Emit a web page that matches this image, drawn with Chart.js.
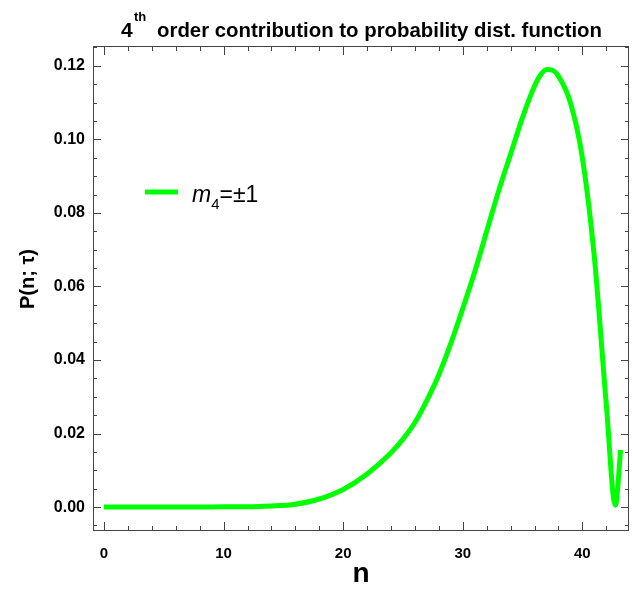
<!DOCTYPE html>
<html><head><meta charset="utf-8">
<script src="https://cdn.jsdelivr.net/npm/chart.js@4.4.0/dist/chart.umd.min.js"></script>
<style>html,body{margin:0;padding:0;background:#fff}canvas{display:block}</style>
</head><body>
<canvas id="c" width="632" height="595"></canvas>
<script>
// ---- data ----
const nValues = [0, 2, 4, 6, 8, 10, 12, 14, 16, 18, 20, 22, 24, 25, 26, 27, 28, 29, 30, 31, 32, 33, 34, 35, 36, 36.5, 37, 37.5, 38, 39, 40, 41, 42, 42.76, 43.2];
const pValues = [0, 0, 0, 0, 0, 0.0001, 0.0001, 0.0003, 0.0008, 0.0022, 0.0048, 0.009, 0.0148, 0.0185, 0.023, 0.029, 0.036, 0.0445, 0.054, 0.064, 0.075, 0.086, 0.096, 0.106, 0.1145, 0.1175, 0.119, 0.1188, 0.1172, 0.110, 0.095, 0.068, 0.028, 0.0005, 0.0155];
const xTickValues = [0, 10, 20, 30, 40];
const yTickValues = [0, 0.02, 0.04, 0.06, 0.08, 0.10, 0.12];
const xMinorStep = 2;
const yMinorStep = 0.005;
const titleMain = "order contribution to probability dist. function";
const titleNum = "4";
const titleSup = "th";
const xTitle = "n";
const yTitle = "P(n; τ)";
const legendSymbol = "m";
const legendSub = "4";
const legendRest = "=±1";

const GREEN = '#00ff00';
const FONT = '"Liberation Sans", Arial, sans-serif';

const decorPlugin = {
  id: 'decor',
  afterDraw(chart) {
    const ctx = chart.ctx;
    const a = chart.chartArea;
    const xs = chart.scales.x, ys = chart.scales.y;
    ctx.save();
    ctx.strokeStyle = '#444';
    ctx.lineWidth = 1;
    ctx.strokeRect(a.left + 0.5, a.top + 0.5, a.right - a.left - 1, a.bottom - a.top - 1);
    const drawX = (v, len) => {
      const px = Math.round(xs.getPixelForValue(v)) + 0.5;
      if (px < a.left || px > a.right) return;
      ctx.beginPath();
      ctx.moveTo(px, a.bottom); ctx.lineTo(px, a.bottom - len);
      ctx.moveTo(px, a.top); ctx.lineTo(px, a.top + len);
      ctx.stroke();
    };
    for (let v = 0; v <= xs.max; v += xMinorStep) {
      const major = xTickValues.some(t => Math.abs(t - v) < 1e-9);
      drawX(v, major ? 9 : 5);
    }
    const drawY = (v, len) => {
      const py = Math.round(ys.getPixelForValue(v)) + 0.5;
      if (py < a.top || py > a.bottom) return;
      ctx.beginPath();
      ctx.moveTo(a.left, py); ctx.lineTo(a.left + len, py);
      ctx.moveTo(a.right, py); ctx.lineTo(a.right - len, py);
      ctx.stroke();
    };
    for (let i = -1; i * yMinorStep <= ys.max; i++) {
      const v = i * yMinorStep;
      const major = yTickValues.some(t => Math.abs(t - v) < 1e-9);
      drawY(v, major ? 8 : 4);
    }
    // title
    ctx.fillStyle = '#000';
    ctx.textBaseline = 'alphabetic';
    ctx.textAlign = 'left';
    ctx.font = 'bold 21px ' + FONT;
    ctx.fillText(titleNum, 121, 37);
    ctx.font = 'bold 13px ' + FONT;
    ctx.fillText(titleSup, 134, 21);
    ctx.font = 'bold 21px ' + FONT;
    ctx.fillText(titleMain, 157, 37, 445);
    // x title
    ctx.textAlign = 'center';
    ctx.font = 'bold 28px ' + FONT;
    ctx.fillText(xTitle, 361, 582);
    // y title
    ctx.save();
    ctx.translate(34, 279);
    ctx.rotate(-Math.PI / 2);
    ctx.font = 'bold 20px ' + FONT;
    ctx.fillText(yTitle, 0, 0);
    ctx.restore();
    // legend
    ctx.strokeStyle = GREEN;
    ctx.lineWidth = 5;
    ctx.beginPath();
    ctx.moveTo(145, 192); ctx.lineTo(178, 192);
    ctx.stroke();
    ctx.textAlign = 'left';
    ctx.fillStyle = '#000';
    ctx.font = 'italic 23px ' + FONT;
    ctx.fillText(legendSymbol, 192, 202);
    let w = ctx.measureText(legendSymbol).width;
    ctx.font = '15px ' + FONT;
    ctx.fillText(legendSub, 192 + w, 209);
    let w2 = ctx.measureText(legendSub).width;
    ctx.font = '23px ' + FONT;
    ctx.fillText(legendRest, 192 + w + w2, 202);
    ctx.restore();
  }
};

new Chart(document.getElementById('c'), {
  type: 'line',
  data: {
    datasets: [{
      label: 'm4=±1',
      data: nValues.map((n, i) => ({ x: n, y: pValues[i] })),
      borderColor: GREEN,
      borderWidth: 5,
      pointRadius: 0,
      fill: false,
      cubicInterpolationMode: 'monotone'
    }]
  },
  options: {
    responsive: false,
    animation: false,
    devicePixelRatio: 1,
    layout: { padding: { top: 46, right: 3, left: 0, bottom: 0 } },
    plugins: { legend: { display: false }, tooltip: { enabled: false }, title: { display: false } },
    scales: {
      x: {
        type: 'linear',
        min: -0.92, max: 43.9,
        grid: { display: false, drawTicks: false },
        border: { display: false },
        afterBuildTicks: s => { s.ticks = xTickValues.map(v => ({ value: v })); },
        afterFit: s => { s.height = 64; },
        ticks: { color: '#000', font: { family: FONT, size: 15, weight: 'bold' }, padding: 14, maxRotation: 0,
          callback: v => String(v) }
      },
      y: {
        type: 'linear',
        min: -0.0065, max: 0.1254,
        grid: { display: false, drawTicks: false },
        border: { display: false },
        afterBuildTicks: s => { s.ticks = yTickValues.map(v => ({ value: v })); },
        afterFit: s => { s.width = 93; },
        ticks: { color: '#000', font: { family: FONT, size: 16, weight: 'bold' }, padding: 8,
          callback: v => Number(v).toFixed(2) }
      }
    }
  },
  plugins: [decorPlugin]
});
</script>
</body></html>
